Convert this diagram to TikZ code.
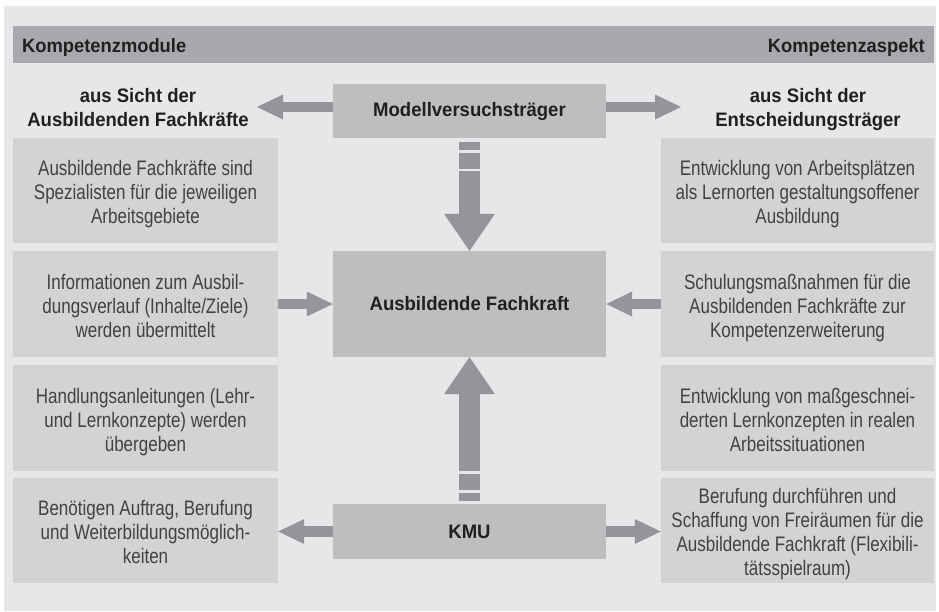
\documentclass[tikz,border=0pt]{standalone}
\usepackage{fontspec}
\setmainfont{Liberation Sans}[FakeStretch=0.81, BoldFeatures={FakeStretch=0.95}]
\usetikzlibrary{arrows.meta}
\definecolor{bgc}{HTML}{E6E7E8}
\definecolor{barc}{HTML}{A7A9AC}
\definecolor{sidec}{HTML}{D1D3D4}
\definecolor{midc}{HTML}{BCBEC0}
\definecolor{arrc}{HTML}{939598}
\definecolor{txtc}{HTML}{231F20}
\newcommand{\firststrut}{\rule{0pt}{24pt}}
\newcommand{\laststrut}{\rule[-6pt]{0pt}{6pt}}
\begin{document}
\begin{tikzpicture}[x=1pt,y=-1pt,
  sidebox/.style={fill=sidec, inner sep=0pt, align=center, text=txtc!85,
    font=\fontsize{21}{24}\selectfont, minimum height=105.5pt},
  lbox/.style={sidebox, minimum width=265pt},
  rbox/.style={sidebox, minimum width=273pt},
  midbox/.style={fill=midc, inner sep=0pt, align=center, text=txtc,
    font=\bfseries\fontsize{19.5}{24}\selectfont, minimum width=273pt},
  headtext/.style={inner sep=0pt, align=center, text=txtc,
    font=\bfseries\fontsize{19.5}{24}\selectfont},
  bartext/.style={inner sep=0pt, text=txtc, font=\bfseries\fontsize{19.3}{22}\selectfont},
  harrow/.style={draw=arrc, line width=10.5pt,
    -{Triangle[length=26pt 0 0, width=25pt 0 0, line width=0pt 0 0]}},
  varrow/.style={draw=arrc, line width=21pt,
    -{Triangle[length=37pt 0 0, width=51pt 0 0, line width=0pt 0 0]}},
  vseg/.style={draw=arrc, line width=21pt}
]
\useasboundingbox (0,0) rectangle (939,611);
\fill[white] (0,0) rectangle (939,611);
\fill[bgc] (4,6) rectangle (936,611);
% header bar
\node[fill=barc, minimum width=921pt, minimum height=37pt, inner sep=0pt] (bar) at (473.5,44.5) {};
\node[bartext, anchor=base west] (km) at (22,52.3) {Kompetenzmodule};
\node[bartext, anchor=base east] (ka) at (925,52.3) {Kompetenzaspekt};
% headings
\node[headtext] (hl) at (138,107.8) {aus Sicht der\\Ausbildenden Fachkräfte};
\node[headtext] (hr) at (808,109.8) {aus Sicht der\\Entscheidungsträger};
% centre boxes
\node[midbox, minimum height=54pt] (mv) at (469.5,111) {Modellversuchsträger};
\node[midbox, minimum height=106pt] (af) at (469.5,304) {Ausbildende Fachkraft};
\node[midbox, minimum height=55pt] (kmu) at (469.5,531.5) {KMU};
% left boxes
\node[lbox] (l1) at (145.5,190.5) {\firststrut Ausbildende Fachkräfte sind\\Spezialisten für die jeweiligen\\Arbeitsgebiete\laststrut};
\node[lbox] (l2) at (145.5,304) {\firststrut Informationen zum Ausbil-\\dungsverlauf (Inhalte/Ziele)\\werden übermittelt\laststrut};
\node[lbox] (l3) at (145.5,418) {\firststrut Handlungsanleitungen (Lehr-\\und Lernkonzepte) werden\\übergeben\laststrut};
\node[lbox] (l4) at (145.5,530.5) {\firststrut Benötigen Auftrag, Berufung\\und Weiterbildungsmöglich-\\keiten\laststrut};
% right boxes
\node[rbox] (r1) at (797.5,190.5) {\firststrut Entwicklung von Arbeitsplätzen\\als Lernorten gestaltungsoffener\\Ausbildung\laststrut};
\node[rbox] (r2) at (797.5,304) {\firststrut Schulungsmaßnahmen für die\\Ausbildenden Fachkräfte zur\\Kompetenzerweiterung\laststrut};
\node[rbox] (r3) at (797.5,418) {\firststrut Entwicklung von maßgeschnei-\\derten Lernkonzepten in realen\\Arbeitssituationen\laststrut};
\node[rbox] (r4) at (797.5,530.5) {\firststrut Berufung durchführen und\\Schaffung von Freiräumen für die\\Ausbildende Fachkraft (Flexibili-\\tätsspielraum)\laststrut};
% horizontal arrows
\coordinate (tipL) at (257,107);
\coordinate (tipR) at (681,107);
\draw[harrow] (mv.west |- tipL) -- (tipL);
\draw[harrow] (mv.east |- tipR) -- (tipR);
\draw[harrow] (l2.east) -- (af.west);
\draw[harrow] (r2.west) -- (af.east);
\draw[harrow] (kmu.west) -- (l4.east |- kmu.west);
\draw[harrow] (kmu.east) -- (r4.west |- kmu.east);
% vertical arrows
\coordinate (dn1) at (469.5,142);
\coordinate (dn2) at (469.5,150);
\coordinate (dn3) at (469.5,153);
\coordinate (dn4) at (469.5,169);
\coordinate (dn5) at (469.5,171);
\draw[vseg] (dn1) -- (dn2);
\draw[vseg] (dn3) -- (dn4);
\draw[varrow] (dn5) -- (af.north);
\coordinate (up1) at (469.5,501);
\coordinate (up2) at (469.5,493);
\coordinate (up3) at (469.5,490);
\coordinate (up4) at (469.5,474);
\coordinate (up5) at (469.5,471);
\draw[vseg] (up1) -- (up2);
\draw[vseg] (up3) -- (up4);
\draw[varrow] (up5) -- (af.south);
\end{tikzpicture}
\end{document}
